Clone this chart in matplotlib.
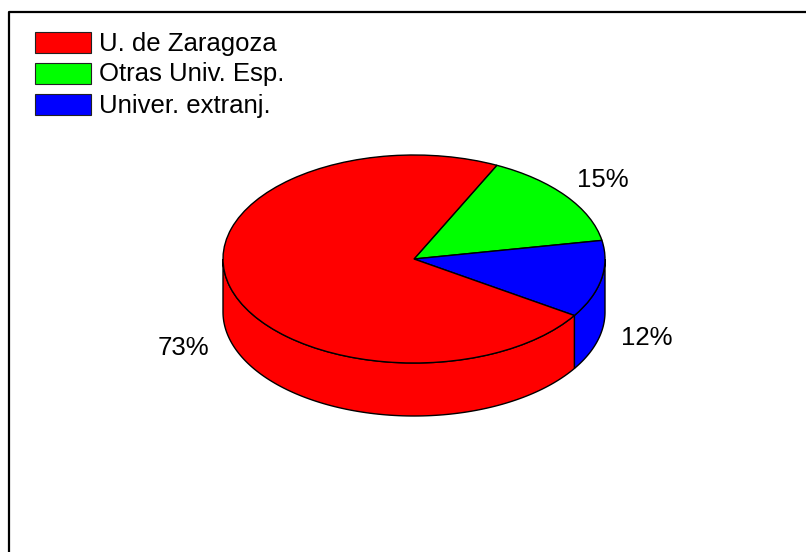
import matplotlib
matplotlib.use("Agg")
import matplotlib.pyplot as plt
from matplotlib.patches import Rectangle
import numpy as np

LABELS = ["Otras Univ. Esp.", "Univer. extranj.", "U. de Zaragoza"]
VALUES = [15, 12, 73]
COLORS = ["#00FF00", "#0000FF", "#FF0000"]
LEGEND_ORDER = [2, 0, 1]

W, H = 806, 552
CX, CY = 414, 259
RX, RY = 191, 104
DEPTH = 53
START = 64.3

plt.rcParams["font.family"] = ["Liberation Sans", "DejaVu Sans"]


def px(x, y):
    # image pixels -> unit pie coordinates
    return (x - CX) / RX, (CY - y) / RY


fig = plt.figure(figsize=(W / 100, H / 100), dpi=100)
ax = fig.add_axes([0, 0, 1, 1])

# Top of the pie, from the library's wedges
ax.pie(VALUES, colors=COLORS, startangle=START, counterclock=False, radius=1,
       wedgeprops={"edgecolor": "black", "linewidth": 1.0, "zorder": 3})
ax.set_aspect("auto")
ax.set_xlim(px(0, 0)[0], px(W, 0)[0])
ax.set_ylim(px(0, H)[1], px(0, 0)[1])
ax.set_axis_off()

# Side wall: the part of each slice on the front half of the ellipse
d = DEPTH / RY
a = START
for val, col in zip(VALUES, COLORS):
    b = a - val / sum(VALUES) * 360
    for lo, hi in [(b, a), (b + 360, a + 360)]:
        lo2, hi2 = max(lo, 180), min(hi, 360)
        if lo2 >= hi2:
            continue
        th = np.radians(np.linspace(lo2, hi2, 120))
        xs = np.r_[np.cos(th), np.cos(th[::-1])]
        ys = np.r_[np.sin(th), np.sin(th[::-1]) - d]
        ax.fill(xs, ys, facecolor=col, edgecolor="black", linewidth=1.0, zorder=2)
    a = b

# Slice labels
label_pos = [(603, 180), (647, 338), (183, 348)]
for val, (x, y) in zip(VALUES, label_pos):
    ax.text(*px(x, y), f"{val}%", fontsize=18.5, ha="center", va="center", color="black")

# Legend
for row, i in enumerate(LEGEND_ORDER):
    top = 32 + row * 31
    x0, y0 = px(35, top + 21)
    x1, y1 = px(91, top)
    ax.add_patch(Rectangle((x0, y0), x1 - x0, y1 - y0, facecolor=COLORS[i],
                           edgecolor="#222222", linewidth=0.8))
    ax.text(*px(99, top + 11.5), LABELS[i], fontsize=18.5, ha="left", va="center", color="black")

# Outer frame: only left and top edges are in the picture
fx0, fy0 = px(9, H)
fx1, fy1 = px(W, 11.5)
ax.plot([fx0, fx0, fx1], [fy0, fy1, fy1], color="black", linewidth=1.6, clip_on=False)

fig.savefig("out.png", dpi=100)
